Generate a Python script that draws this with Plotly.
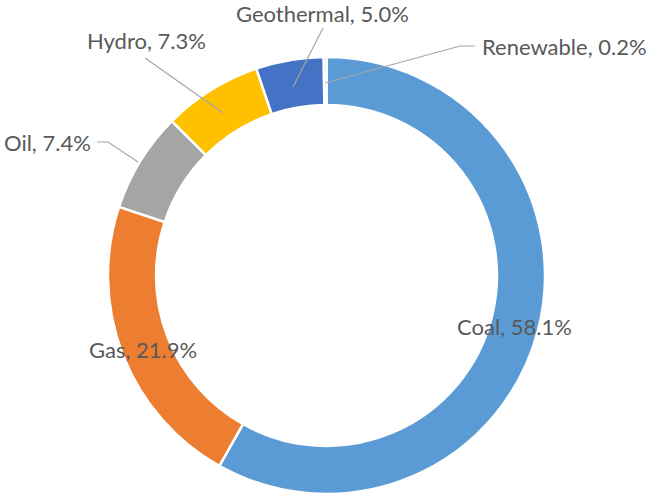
import plotly.graph_objects as go

# ---- data ----
labels = ["Coal", "Gas", "Oil", "Hydro", "Geothermal", "Renewable"]
values = [58.1, 21.9, 7.4, 7.3, 5.0, 0.2]
colors = ["#5B9BD5", "#ED7D31", "#A5A5A5", "#FFC000", "#4472C4", "#70AD47"]

# ---- layout (pixel positions) ----
W, H = 649, 495
CX, CY, R = 326.5, 275.5, 218.5

# label centres (px) per label
label_pos = {
    "Coal": (514, 326),
    "Gas": (143, 349),
    "Oil": (47, 142),
    "Hydro": (146, 41),
    "Geothermal": (322, 14),
    "Renewable": (564, 47),
}
# leader line paths (px), from label to ring
leaders = {
    "Oil": [(97, 142), (108, 142), (138, 162)],
    "Hydro": [(145, 58), (223, 113)],
    "Geothermal": [(323, 28), (293, 87)],
    "Renewable": [(475, 46), (460, 46), (325, 83)],
}


def px(x, y):
    return x / W, 1 - y / H


fig = go.Figure(
    go.Pie(
        labels=labels,
        values=values,
        marker=dict(colors=colors, line=dict(color="white", width=2.5)),
        hole=0.78,
        sort=False,
        direction="clockwise",
        rotation=0,
        textinfo="none",
        hoverinfo="label+percent",
        showlegend=False,
        domain=dict(x=[(CX - R) / W, (CX + R) / W], y=[(H - CY - R) / H, (H - CY + R) / H]),
    )
)

annotations = []
for lab, v in zip(labels, values):
    x, y = px(*label_pos[lab])
    annotations.append(
        dict(
            x=x, y=y, xref="paper", yref="paper",
            text=f"{lab}, {v:.1f}%",
            showarrow=False, xanchor="center", yanchor="middle",
            font=dict(family="Lato", size=22, color="#595959"),
        )
    )

shapes = []
for lab, pts in leaders.items():
    path = "M " + " L ".join(f"{px(a, b)[0]},{px(a, b)[1]}" for a, b in pts)
    shapes.append(dict(type="path", xref="paper", yref="paper", path=path,
                       line=dict(color="#A6A6A6", width=1.2)))

fig.update_layout(
    width=W, height=H,
    margin=dict(l=0, r=0, t=0, b=0),
    paper_bgcolor="white", plot_bgcolor="white",
    annotations=annotations,
    shapes=shapes,
)

fig.write_html(
    "out.html",
    config={"displayModeBar": False},
    post_script="document.body.style.margin='0';document.body.style.overflow='hidden';",
)
